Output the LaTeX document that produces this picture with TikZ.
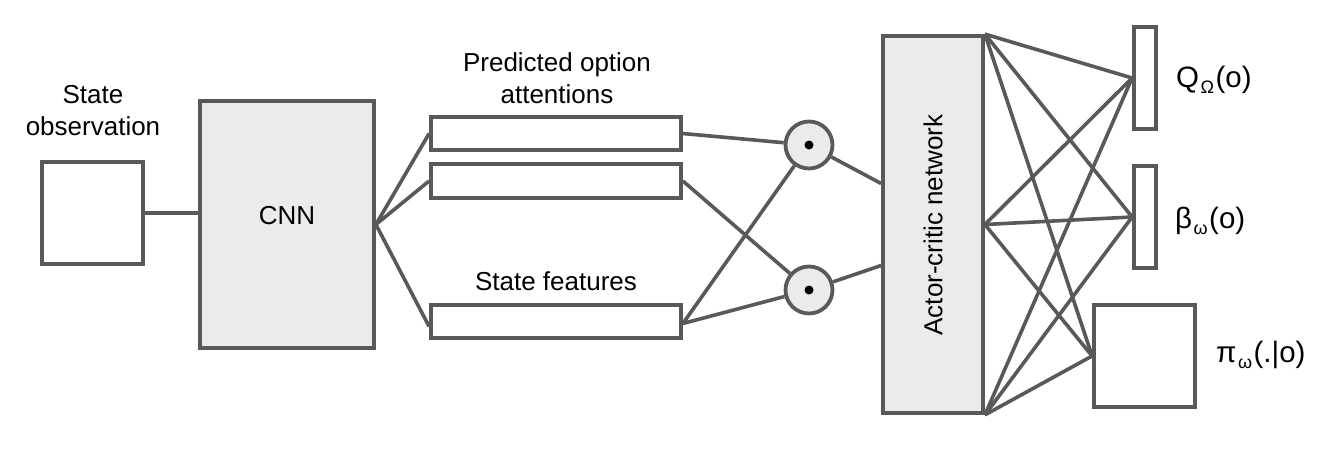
\documentclass[tikz,border=0pt]{standalone}
\usepackage{fontspec}
\setmainfont{Liberation Sans}
\definecolor{ln}{HTML}{595959}
\definecolor{bx}{HTML}{EBEBEB}
\tikzset{
  box/.style={draw=ln, line width=3.8pt, rectangle, inner sep=0pt},
  gbox/.style={box, fill=bx},
  mult/.style={draw=ln, line width=3.8pt, circle, fill=bx, minimum size=47pt, inner sep=0pt},
  conn/.style={draw=ln, line width=3.6pt},
  txt/.style={font=\fontsize{26}{32}\selectfont, inner sep=0pt, align=center},
  otxt/.style={font=\fontsize{29.5}{34}\selectfont, inner sep=0pt, anchor=base west},
}
\newcommand{\lowsub}[1]{\kern1.5pt\raisebox{-6.5pt}{\fontsize{18}{18}\selectfont #1}\kern1.5pt}
\begin{document}
\begin{tikzpicture}[x=1pt,y=-1pt]
\useasboundingbox (0,0) rectangle (1328,450);
% left part
\node[box, minimum width=101pt, minimum height=102pt] (obs) at (92.5,213) {};
\node[txt] (obslbl) at (93,111) {State\\observation};
\node[gbox, minimum width=174pt, minimum height=247pt] (cnn) at (287,224.5) {};
\node[txt] (cnnlbl) at (287,216) {CNN};
\draw[conn] (obs.east) -- (cnn.west |- obs.east);
% feature bars
\node[box, minimum width=250pt, minimum height=33pt] (a1) at (556,133.5) {};
\node[box, minimum width=250pt, minimum height=34pt] (a2) at (556,181) {};
\node[box, minimum width=250pt, minimum height=33pt] (sf) at (556,321.5) {};
\node[txt] (alabel) at (557,78) {Predicted option\\attentions};
\node[txt] (sflabel) at (556,281) {State features};
\draw[conn] (cnn.east) -- (a1.west);
\draw[conn] (cnn.east) -- (a2.west);
\draw[conn] (cnn.east) -- ([yshift=-5pt]sf.west);
% multiplication nodes
\node[mult] (m1) at (809,145) {};
\node[mult] (m2) at (809,290) {};
\fill (m1.center) circle (4.5);
\fill (m2.center) circle (4.5);
\draw[conn] (a1.east) -- (m1);
\draw[conn] (a2.east) -- (m2);
\draw[conn] ([yshift=-2pt]sf.east) -- (m1);
\draw[conn] ([yshift=-2pt]sf.east) -- (m2);
% actor-critic
\node[gbox, minimum width=100pt, minimum height=377pt] (ac) at (933,224.5) {};
\node[txt, rotate=90] (aclbl) at (933,225) {Actor-critic network};
\draw[conn] (m1) -- ([yshift=41pt]ac.west);
\draw[conn] (m2) -- ([yshift=-41pt]ac.west);
% outputs
\node[box, minimum width=22pt, minimum height=102pt] (q) at (1145,78) {};
\node[box, minimum width=22pt, minimum height=102pt] (b) at (1145,217) {};
\node[box, minimum width=101pt, minimum height=102pt] (pi) at (1144.5,356) {};
\node[otxt] (qlbl) at (1176,87) {Q\lowsub{Ω}(o)};
\node[otxt] (blbl) at (1175,228) {β\lowsub{ω}(o)};
\node[otxt] (pilbl) at (1216,362) {π\lowsub{ω}(.|o)};
\foreach \s in {ac.north east, ac.east, ac.south east}{
  \draw[conn] (\s) -- (q.west);
  \draw[conn] (\s) -- (b.west);
  \draw[conn] (\s) -- (pi.west);
}
\end{tikzpicture}
\end{document}
